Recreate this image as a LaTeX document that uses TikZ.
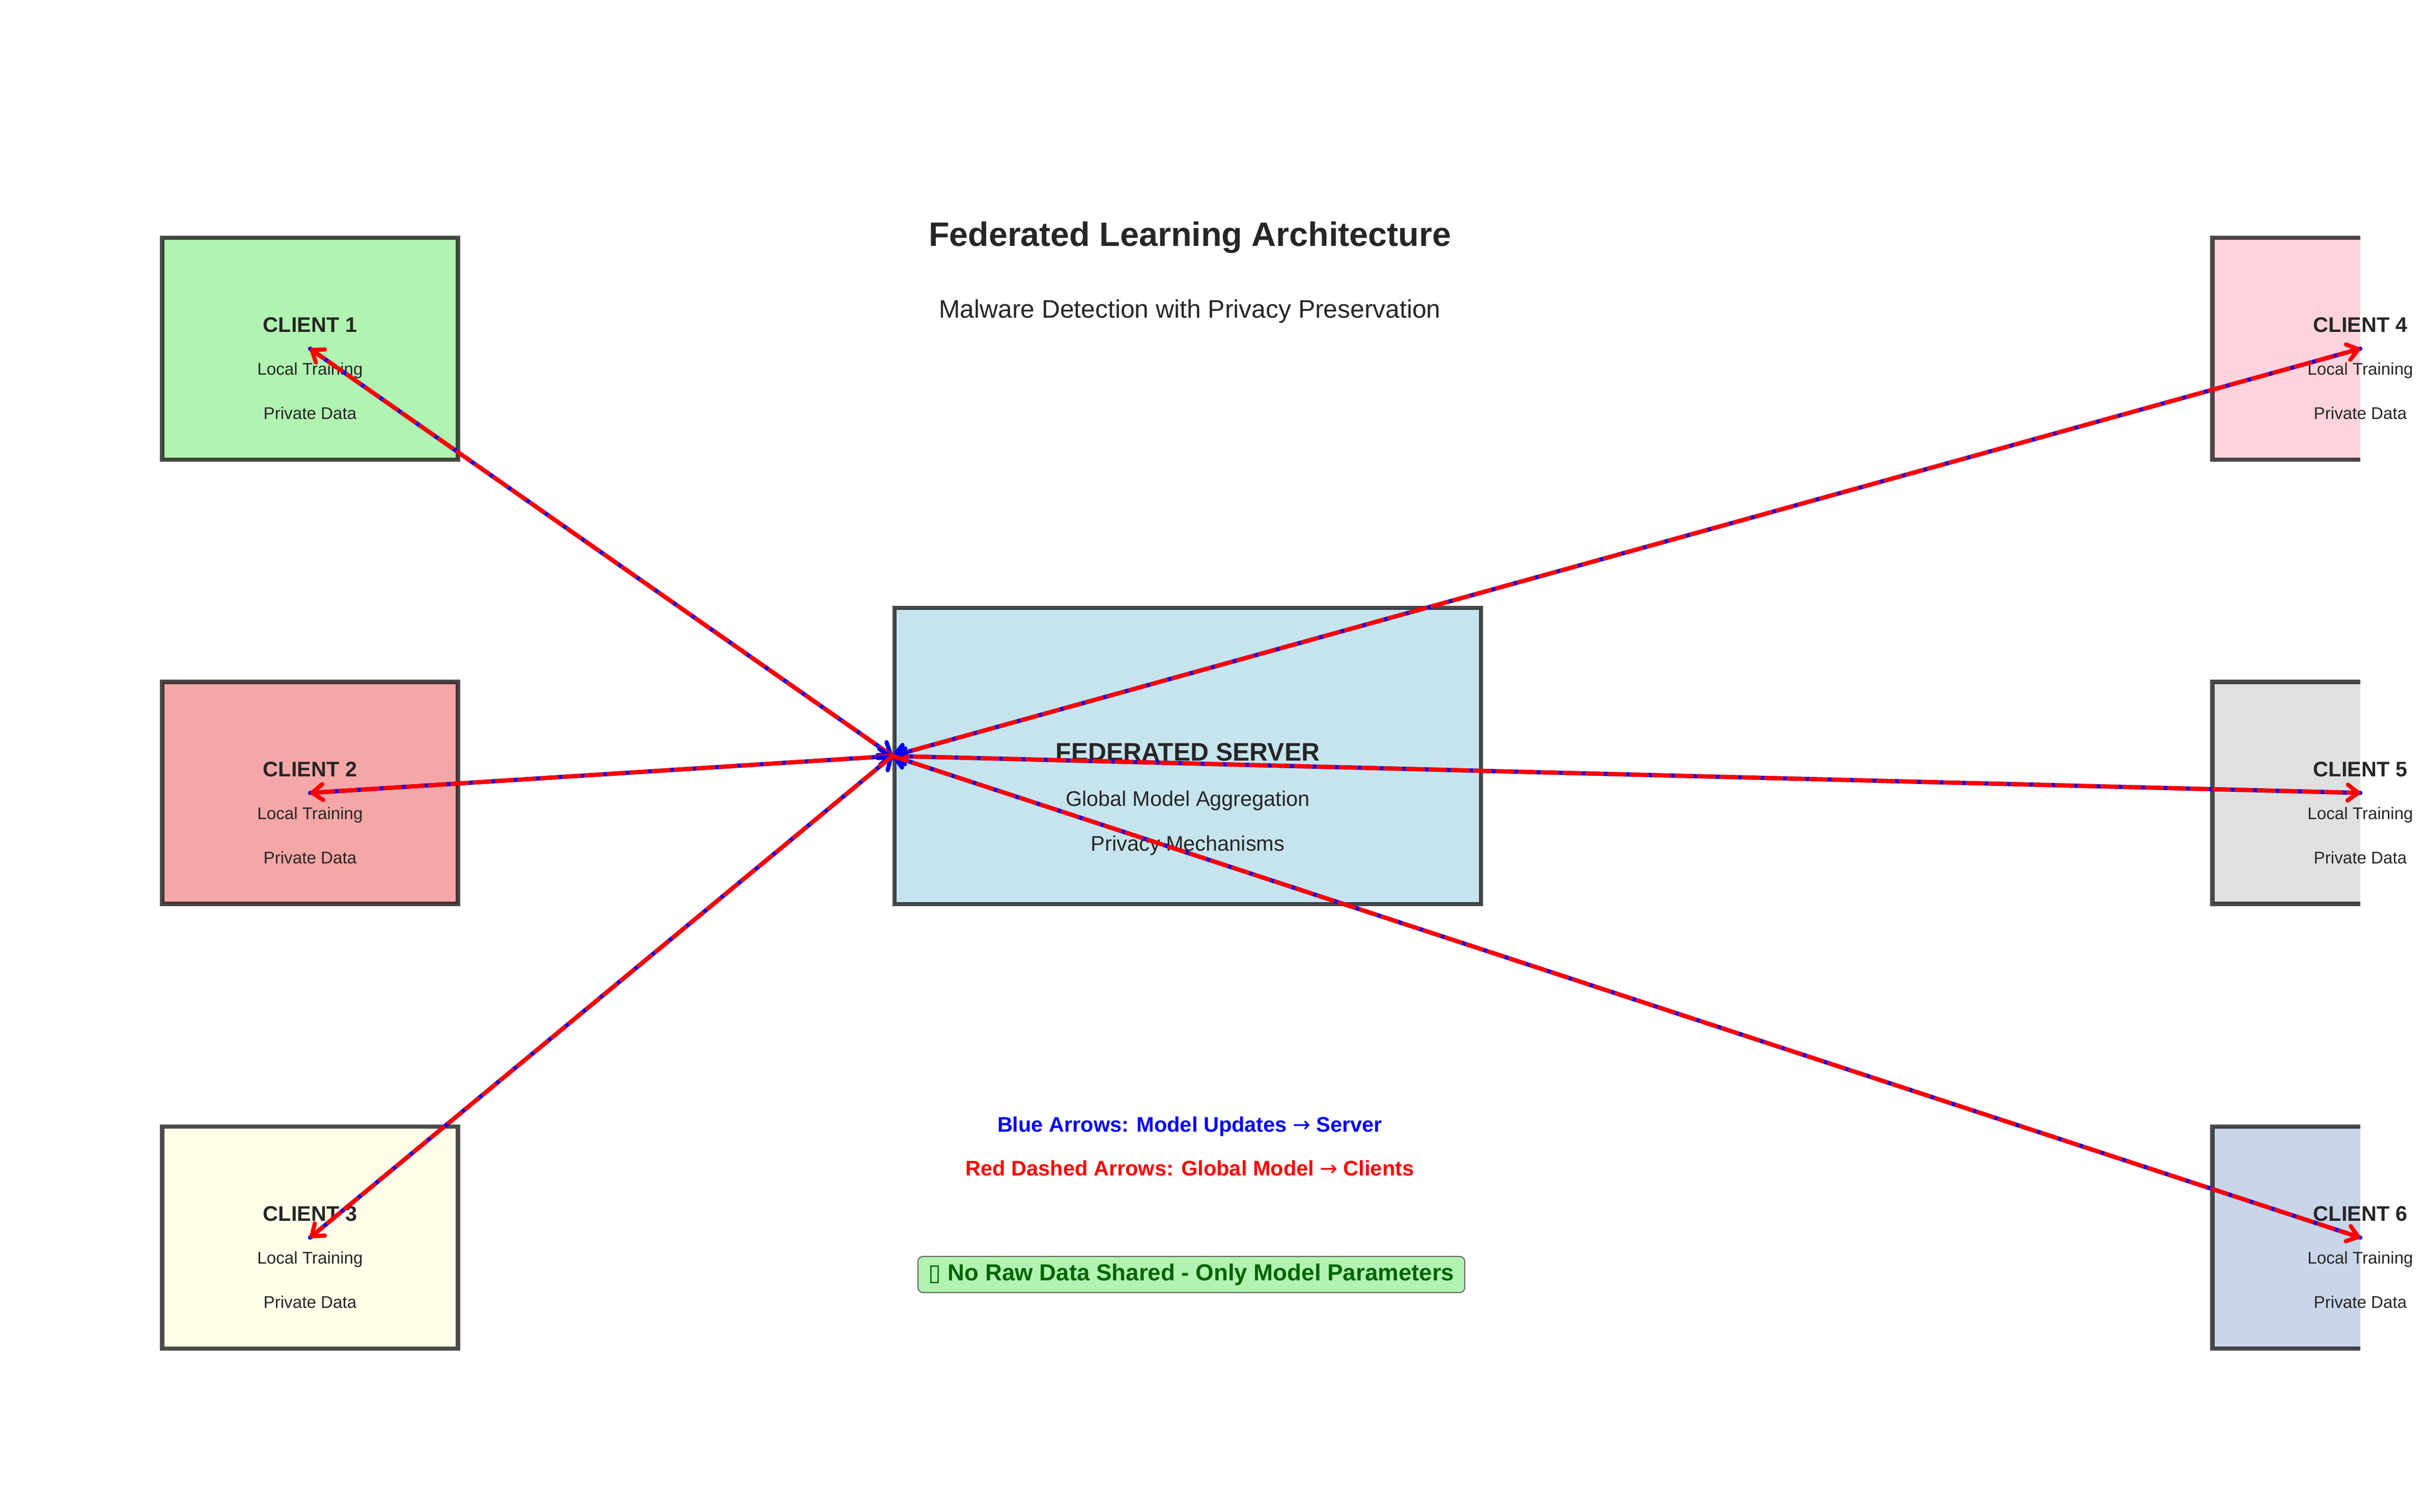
\documentclass[tikz,border=0pt]{standalone}
\usepackage{fontspec}
\setmainfont{Liberation Sans}
\newfontfamily\symfont{DejaVu Sans}
\usetikzlibrary{arrows.meta}

\definecolor{cgreen}{RGB}{177,243,177}
\definecolor{ccoral}{RGB}{245,166,166}
\definecolor{cyellow}{RGB}{255,255,233}
\definecolor{cpink}{RGB}{255,211,219}
\definecolor{cgray}{RGB}{224,224,224}
\definecolor{csteel}{RGB}{200,214,232}
\definecolor{sblue}{RGB}{198,228,238}
\definecolor{txt}{RGB}{38,38,38}
\definecolor{dgreen}{RGB}{0,100,0}

\begin{document}
\begin{tikzpicture}[x=0.84667cm,y=0.84667cm,
  client/.style={draw=black,draw opacity=0.7,line width=2pt,inner sep=0pt,
    minimum width=4.919cm,minimum height=3.692cm},
  server/.style={client,fill=sblue,minimum width=9.754cm,minimum height=4.928cm},
  head/.style={anchor=base,inner sep=0pt,text=txt,font=\bfseries\fontsize{10}{12}\selectfont},
  small/.style={anchor=base,inner sep=0pt,text=txt,font=\fontsize{8}{10}\selectfont},
  mid/.style={anchor=base,inner sep=0pt,text=txt,font=\fontsize{10}{12}\selectfont},
  legend/.style={anchor=base,inner sep=0pt,font=\bfseries\fontsize{10}{12}\selectfont},
  tip/.style={-{Straight Barb[length=5pt,width=7.5pt,round]}},
  upd/.style={tip,draw=blue,line width=2pt,line cap=round},
  glob/.style={tip,draw=red,line width=2pt,line cap=round,dash pattern=on 7.4pt off 3.2pt}]

\useasboundingbox (0,0) rectangle (47.69,29.70);

%title
\node[anchor=base,inner sep=0pt,text=txt,font=\bfseries\fontsize{16}{19}\selectfont] (ttl) at (23.37, 24.86) {Federated Learning Architecture};
\node[anchor=base,inner sep=0pt,text=txt,font=\fontsize{12}{14}\selectfont] (sub) at (23.37, 23.45) {Malware Detection with Privacy Preservation};

%server
\node[server] (srv) at (23.33, 14.85) {};
\node[head,font=\bfseries\fontsize{12}{14}\selectfont] (srvh) at (23.33, 14.75) {FEDERATED SERVER};
\node[mid] (srva) at (23.33, 13.86) {Global Model Aggregation};
\node[mid] (srvp) at (23.33, 12.98) {Privacy Mechanisms};

%clients
\node[client,fill=cgreen] (c1) at (6.09, 22.85) {};
\node[client,fill=ccoral] (c2) at (6.09, 14.125) {};
\node[client,fill=cyellow] (c3) at (6.09, 5.39) {};

\begin{scope}
\clip (0,0) rectangle (46.36, 29.70);
\node[client,fill=cpink] (c4) at (46.36, 22.85) {};
\node[client,fill=cgray] (c5) at (46.36, 14.125) {};
\node[client,fill=csteel] (c6) at (46.36, 5.39) {};
\end{scope}

\node[head] (c1h) at (6.09, 23.17) {CLIENT 1};
\node[small] (c1l) at (6.09, 22.33) {Local Training};
\node[small] (c1p) at (6.09, 21.46) {Private Data};
\node[head] (c2h) at (6.09, 14.445) {CLIENT 2};
\node[small] (c2l) at (6.09, 13.605) {Local Training};
\node[small] (c2p) at (6.09, 12.735) {Private Data};
\node[head] (c3h) at (6.09, 5.71) {CLIENT 3};
\node[small] (c3l) at (6.09, 4.87) {Local Training};
\node[small] (c3p) at (6.09, 4.00) {Private Data};
\node[head] (c4h) at (46.36, 23.17) {CLIENT 4};
\node[small] (c4l) at (46.36, 22.33) {Local Training};
\node[small] (c4p) at (46.36, 21.46) {Private Data};
\node[head] (c5h) at (46.36, 14.445) {CLIENT 5};
\node[small] (c5l) at (46.36, 13.605) {Local Training};
\node[small] (c5p) at (46.36, 12.735) {Private Data};
\node[head] (c6h) at (46.36, 5.71) {CLIENT 6};
\node[small] (c6l) at (46.36, 4.87) {Local Training};
\node[small] (c6p) at (46.36, 4.00) {Private Data};

%legend
\node[legend,text=blue] (lgb) at (23.37, 7.46) {Blue Arrows: Model Updates {\symfont\mdseries →} Server};
\node[legend,text=red] (lgr) at (23.37, 6.60) {Red Dashed Arrows: Global Model {\symfont\mdseries →} Clients};
\node[fill=cgreen,draw=black!60,line width=0.5pt,rounded corners=2.4pt,inner xsep=5pt,inner ysep=0pt,
  minimum height=0.601cm,text height=8pt,text depth=2.3pt,text=dgreen,
  font=\bfseries\fontsize{11}{13}\selectfont] (note) at (23.40, 4.665)
  {{\symfont\mdseries ▯} No Raw Data Shared - Only Model Parameters};

%updates and global model
\draw[upd] (c1.center) -- (srv.west);
\draw[glob] (srv.west) -- (c1.center);
\draw[upd] (c2.center) -- (srv.west);
\draw[glob] (srv.west) -- (c2.center);
\draw[upd] (c3.center) -- (srv.west);
\draw[glob] (srv.west) -- (c3.center);
\draw[upd] (c4.center) -- (srv.west);
\draw[glob] (srv.west) -- (c4.center);
\draw[upd] (c5.center) -- (srv.west);
\draw[glob] (srv.west) -- (c5.center);
\draw[upd] (c6.center) -- (srv.west);
\draw[glob] (srv.west) -- (c6.center);

\end{tikzpicture}
\end{document}
